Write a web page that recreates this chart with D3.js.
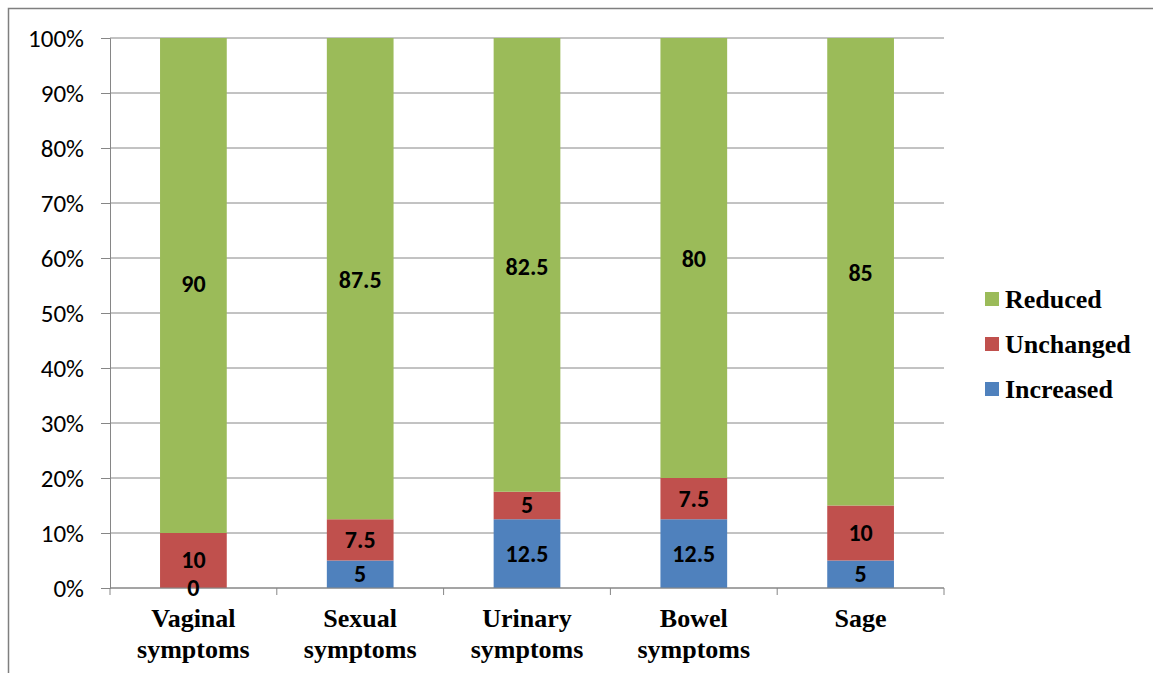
<!DOCTYPE html>
<html>
<head>
<meta charset="utf-8">
<script src="https://cdn.jsdelivr.net/npm/d3@7"></script>
<style>
  body { margin: 0; background: #fff; }
</style>
</head>
<body>
<div id="chart"></div>
<script>
// Data
const categories = [["Vaginal", "symptoms"], ["Sexual", "symptoms"], ["Urinary", "symptoms"], ["Bowel", "symptoms"], ["Sage"]];
const increased = [0, 5, 12.5, 12.5, 5];
const unchanged = [10, 7.5, 5, 7.5, 10];
const reduced = [90, 87.5, 82.5, 80, 85];
const yTicks = [0, 10, 20, 30, 40, 50, 60, 70, 80, 90, 100];
// where Excel left the labels (in % units on the y axis)
const increasedLabelAt = [0, 2.5, 6.25, 6.25, 2.5];
const unchangedLabelAt = [5, 8.75, 15, 16.1, 10];
const reducedLabelAt = [55.3, 56, 58.4, 59.8, 57.3];

const seriesNames = ["Increased", "Unchanged", "Reduced"];
const colors = { Increased: "#4F81BD", Unchanged: "#C0504D", Reduced: "#9BBB59" };

const sansFont = "Carlito, Calibri, Lato, 'Open Sans', sans-serif";
const serifFont = "'Liberation Serif', 'Times New Roman', serif";

const W = 1153, H = 673;
const margin = { top: 38, right: 209, bottom: 85, left: 110 };
const width = W - margin.left - margin.right;
const height = H - margin.top - margin.bottom;

const svg = d3.select("#chart").append("svg")
    .attr("width", W)
    .attr("height", H);

// outer frame (only top and left are visible in the picture)
svg.append("path")
    .attr("d", `M8.5,${H} V8.5 H${W}`)
    .attr("fill", "none")
    .attr("stroke", "#7f7f7f")
    .attr("stroke-width", 1.5);

const g = svg.append("g").attr("transform", `translate(${margin.left},${margin.top})`);

const x = d3.scaleBand()
    .domain(d3.range(categories.length))
    .range([0, width])
    .paddingInner(0.6)
    .paddingOuter(0.3);

const y = d3.scaleLinear().domain([0, 100]).range([height, 0]);

// gridlines
g.append("g")
    .selectAll("line")
    .data(yTicks)
    .join("line")
    .attr("x1", 0).attr("x2", width)
    .attr("y1", d => y(d)).attr("y2", d => y(d))
    .attr("stroke", "#868686")
    .attr("stroke-width", 1);

// y axis
const yAxis = d3.axisLeft(y).tickValues(yTicks).tickFormat(d => d + "%").tickSize(9).tickPadding(17);
const yAxisG = g.append("g").call(yAxis);
yAxisG.select(".domain").attr("stroke", "#868686");
yAxisG.selectAll(".tick line").attr("stroke", "#868686");
yAxisG.selectAll("text")
    .attr("font-family", sansFont)
    .attr("font-size", 25)
    .attr("fill", "#000");

// stacked bars
const rows = categories.map((c, i) => ({ i, Increased: increased[i], Unchanged: unchanged[i], Reduced: reduced[i] }));
const stack = d3.stack().keys(seriesNames)(rows);

g.append("g")
    .selectAll("g")
    .data(stack)
    .join("g")
    .attr("fill", d => colors[d.key])
    .selectAll("rect")
    .data(d => d)
    .join("rect")
    .attr("x", d => x(d.data.i))
    .attr("width", x.bandwidth())
    .attr("y", d => y(d[1]))
    .attr("height", d => y(d[0]) - y(d[1]));

// x axis
const catStep = x.step();
const xAxisG = g.append("g").attr("transform", `translate(0,${height})`);
xAxisG.append("line")
    .attr("x1", 0).attr("x2", width)
    .attr("stroke", "#868686");
xAxisG.selectAll(".tk")
    .data(d3.range(categories.length + 1))
    .join("line")
    .attr("class", "tk")
    .attr("x1", d => d * catStep).attr("x2", d => d * catStep)
    .attr("y1", 0).attr("y2", 7)
    .attr("stroke", "#868686");

const catLabels = xAxisG.selectAll(".cat")
    .data(categories)
    .join("text")
    .attr("class", "cat")
    .attr("text-anchor", "middle")
    .attr("font-family", serifFont)
    .attr("font-weight", "bold")
    .attr("font-size", 26)
    .attr("fill", "#000")
    .attr("transform", (d, i) => `translate(${x(i) + x.bandwidth() / 2},0)`);
catLabels.selectAll("tspan")
    .data(d => d)
    .join("tspan")
    .attr("x", 0)
    .attr("y", (d, j) => 39 + j * 31)
    .text(d => d);

// value labels
const labelSets = [
    { vals: increased, at: increasedLabelAt },
    { vals: unchanged, at: unchangedLabelAt },
    { vals: reduced, at: reducedLabelAt }
];
labelSets.forEach(set => {
    g.append("g")
        .selectAll("text")
        .data(set.vals)
        .join("text")
        .attr("x", (d, i) => x(i) + x.bandwidth() / 2)
        .attr("y", (d, i) => y(set.at[i]))
        .attr("dy", "0.33em")
        .attr("text-anchor", "middle")
        .attr("font-family", sansFont)
        .attr("font-weight", "bold")
        .attr("font-size", 24)
        .attr("fill", "#000")
        .text(d => d);
});

// legend
const legendItems = ["Reduced", "Unchanged", "Increased"];
const legend = svg.append("g").attr("transform", "translate(985,299)");
const li = legend.selectAll("g")
    .data(legendItems)
    .join("g")
    .attr("transform", (d, i) => `translate(0,${i * 45})`);
li.append("rect")
    .attr("x", 0).attr("y", -7)
    .attr("width", 14).attr("height", 14)
    .attr("fill", d => colors[d]);
li.append("text")
    .attr("x", 20)
    .attr("dy", "0.33em")
    .attr("font-family", serifFont)
    .attr("font-weight", "bold")
    .attr("font-size", 26)
    .attr("fill", "#000")
    .text(d => d);
</script>
</body>
</html>
